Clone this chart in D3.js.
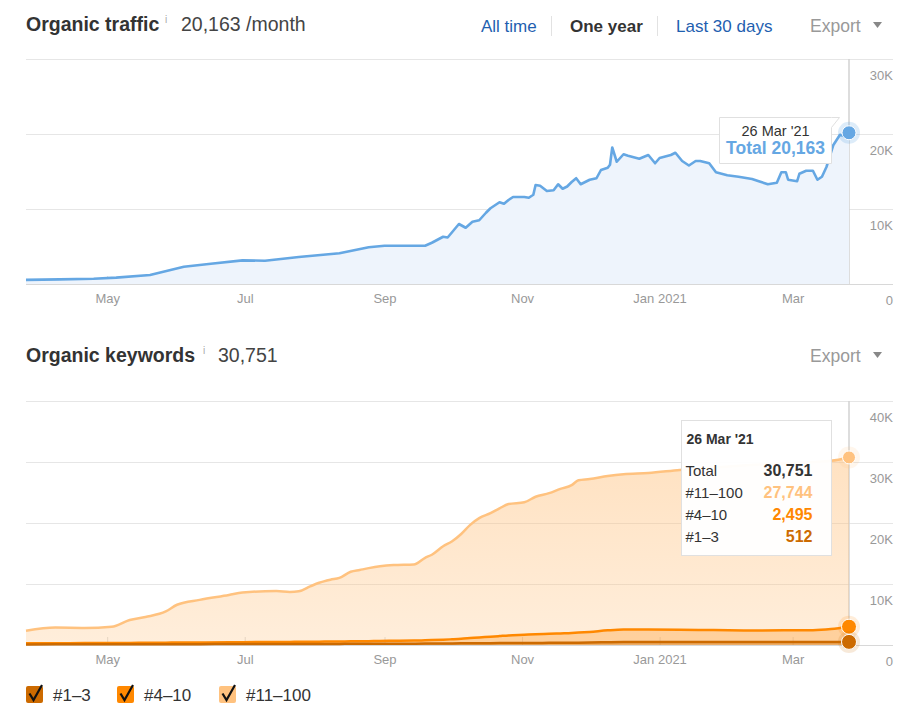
<!DOCTYPE html>
<html lang="en">
<head>
<meta charset="UTF-8">
<script src="https://d3js.org/d3.v7.min.js"></script>
<title>Organic traffic / keywords</title>
<style>
body { margin: 0; background: #fff; }
svg { display: block; font-family: "Liberation Sans", Arial, sans-serif; }
.grid line { stroke: #e6e6e6; }
.grid path { display: none; }
.ylab text { fill: #999; font-size: 13px; }
.ylab path, .ylab line { display: none; }
.xaxis path { stroke: #d8d8d8; }
.xaxis line { stroke: #dcdcdc; }
.xaxis text { fill: #999; font-size: 13px; }
</style>
</head>
<body>
<script>

// organic traffic, one year
var trafficDates = ["2020-03-26","2020-04-10","2020-04-25","2020-05-05","2020-05-20","2020-06-04","2020-06-16","2020-06-30",
  "2020-07-10","2020-07-25","2020-08-12","2020-08-25","2020-09-01","2020-09-19","2020-09-22","2020-09-27","2020-09-29",
  "2020-10-04","2020-10-07","2020-10-10","2020-10-13","2020-10-16","2020-10-18","2020-10-22","2020-10-24","2020-10-26",
  "2020-10-28","2020-11-02","2020-11-04","2020-11-06","2020-11-07","2020-11-09","2020-11-12","2020-11-15","2020-11-17",
  "2020-11-19","2020-11-21","2020-11-23","2020-11-25","2020-11-27","2020-12-01","2020-12-04","2020-12-06","2020-12-09",
  "2020-12-10","2020-12-11","2020-12-13","2020-12-16","2020-12-18","2020-12-23","2020-12-27","2020-12-30","2021-01-01",
  "2021-01-06","2021-01-08","2021-01-11","2021-01-14","2021-01-17","2021-01-19","2021-01-23","2021-01-26","2021-01-31",
  "2021-02-05","2021-02-11","2021-02-14","2021-02-18","2021-02-22","2021-02-24","2021-02-26","2021-02-27","2021-03-03",
  "2021-03-04","2021-03-07","2021-03-10","2021-03-12","2021-03-14","2021-03-16","2021-03-19","2021-03-22","2021-03-24",
  "2021-03-26"];
var trafficValues = [550, 620, 700, 850, 1200, 2300, 2700, 3150,
  3100, 3600, 4100, 4900, 5100, 5100, 5500, 6300, 6200,
  8000, 7500, 8300, 8500, 9500, 10100, 10900, 10700, 11200,
  11600, 11600, 11500, 11900, 13200, 13100, 12400, 12500, 13300,
  12700, 13000, 13600, 14100, 13300, 13900, 14100, 15200, 15500,
  15900, 18200, 16300, 17300, 17100, 16700, 17200, 16100, 16800,
  17200, 17500, 16400, 15800, 16400, 16400, 16100, 14900, 14500,
  14300, 14000, 13700, 13300, 13500, 14900, 14900, 13900, 13700,
  14700, 15100, 15100, 13900, 14300, 15600, 18500, 19900, 19700,
  20163];

// organic keywords by position
var keywordDates = ["2020-03-26","2020-04-08","2020-04-21","2020-05-03","2020-05-11","2020-05-18","2020-05-27","2020-06-01",
  "2020-06-11","2020-06-24","2020-06-30","2020-07-15","2020-07-21","2020-07-25","2020-07-30","2020-08-03","2020-08-08",
  "2020-08-12","2020-08-17","2020-08-21","2020-08-25","2020-08-30","2020-09-05","2020-09-14","2020-09-19","2020-09-22",
  "2020-09-27","2020-10-01","2020-10-05","2020-10-09","2020-10-13","2020-10-18","2020-10-22","2020-10-26","2020-11-02",
  "2020-11-07","2020-11-13","2020-11-18","2020-11-23","2020-11-26","2020-12-01","2020-12-09","2020-12-16","2020-12-27",
  "2021-01-10","2021-01-25","2021-02-10","2021-02-25","2021-03-10","2021-03-18","2021-03-26"];
var pos1to3 = [100, 110, 110, 120, 120, 130, 130, 140,
  140, 150, 150, 160, 160, 160, 170, 170, 180,
  180, 190, 190, 200, 200, 210, 220, 230, 240,
  250, 260, 270, 280, 290, 300, 310, 320, 330,
  340, 350, 360, 370, 380, 400, 450, 480, 500,
  500, 490, 490, 500, 500, 505, 512];
var pos4to10 = [180, 190, 200, 210, 220, 230, 250, 260,
  280, 300, 320, 340, 350, 360, 370, 380, 390,
  400, 410, 420, 430, 450, 480, 500, 540, 560,
  620, 680, 750, 850, 950, 1050, 1150, 1250, 1350,
  1420, 1480, 1540, 1600, 1650, 1750, 1950, 2050, 2030,
  2000, 1950, 1900, 1900, 1920, 2100, 2495];
var pos11to100 = [2070, 2550, 2490, 2670, 3760, 4240, 5120, 6200,
  6980, 7750, 8130, 8350, 8190, 8280, 9060, 9650, 10130,
  10420, 11400, 11690, 11970, 12250, 12410, 12480, 13530, 14000,
  15330, 16060, 17180, 18570, 19560, 20250, 20940, 21530, 21720,
  22540, 23070, 23700, 24230, 24970, 25050, 25300, 25470, 25670,
  26200, 26660, 27110, 27400, 27580, 27595, 27744];

var xTickDates = ["2020-05-01","2020-07-01","2020-09-01","2020-11-01","2021-01-01","2021-03-01"];
var xTickLabels = ["May","Jul","Sep","Nov","Jan 2021","Mar"];
var trafficTicks = [0, 10000, 20000, 30000];
var keywordTicks = [0, 10000, 20000, 30000, 40000];
var seriesNames = ["#1\u20133", "#4\u201310", "#11\u2013100"];
var seriesColors = ["#cc6a00", "#ff8800", "#ffc27f"];

var parse = d3.timeParse("%Y-%m-%d");
var fmt = d3.format(",");

var width = 904, height = 713;
var svg = d3.select("body").append("svg")
    .attr("width", width)
    .attr("height", height);

var x = d3.scaleTime()
    .domain([parse("2020-03-26"), parse("2021-03-26")])
    .range([26, 849]);

var kfmt = function(d) { return d === 0 ? "0" : (d / 1000) + "K"; };

function drawFrame(y, ticks, top, bottom) {
  // gridlines across plot + label column
  svg.append("g")
      .attr("class", "grid")
      .attr("transform", "translate(893,0)")
      .call(d3.axisLeft(y).tickValues(ticks).tickSize(867).tickFormat(""));

  svg.append("g")
      .attr("class", "ylab")
      .attr("transform", "translate(893,20)")
      .call(d3.axisLeft(y).tickValues(ticks).tickSize(0).tickPadding(0).tickFormat(kfmt))
    .selectAll("text")
      .attr("dy", 0);

  var xa = svg.append("g")
      .attr("class", "xaxis")
      .attr("transform", "translate(0," + bottom + ")")
      .call(d3.axisBottom(x)
        .tickValues(xTickDates.map(parse))
        .tickFormat(function(d, i) { return xTickLabels[i]; })
        .tickSizeInner(-8).tickSizeOuter(0));
  xa.select(".domain").attr("d", "M26,0.5H893");
  xa.selectAll("text").attr("y", 19).attr("dy", 0);

  // crosshair at last point
  svg.append("line")
      .attr("x1", x(parse("2021-03-26"))).attr("x2", x(parse("2021-03-26")))
      .attr("y1", top).attr("y2", bottom)
      .attr("stroke", "#d2d2d2").attr("stroke-width", 1.5);
}

/* ---------- Organic traffic ---------- */
svg.append("text").attr("x", 26).attr("y", 31)
    .style("font-size", "19.5px").style("font-weight", "bold").attr("fill", "#333")
    .text("Organic traffic");
svg.append("text").attr("x", 165).attr("y", 23)
    .style("font-size", "10px").attr("fill", "#aaa").text("i");
svg.append("text").attr("x", 181).attr("y", 31)
    .style("font-size", "19.5px").attr("fill", "#444")
    .text(fmt(trafficValues[trafficValues.length - 1]) + " /month");

var links = [
  {t: "All time", x: 481, c: "#1f5fb0", w: "normal"},
  {t: "One year", x: 570, c: "#333", w: "bold"},
  {t: "Last 30 days", x: 676, c: "#1f5fb0", w: "normal"}
];
svg.selectAll("text.link").data(links).enter().append("text")
    .attr("class", "link")
    .attr("x", function(d) { return d.x; }).attr("y", 32)
    .style("font-size", "17px").style("font-weight", function(d) { return d.w; })
    .attr("fill", function(d) { return d.c; })
    .text(function(d) { return d.t; });
[551.5, 657.5].forEach(function(sx) {
  svg.append("line").attr("x1", sx).attr("x2", sx).attr("y1", 16).attr("y2", 36)
      .attr("stroke", "#e2e2e2");
});

function exportBtn(yb) {
  svg.append("text").attr("x", 810).attr("y", yb)
      .style("font-size", "17.5px").attr("fill", "#999").text("Export");
  svg.append("path")
      .attr("d", "M873," + (yb - 10) + "h9l-4.5,6z")
      .attr("fill", "#888");
}
exportBtn(32);

var y1 = d3.scaleLinear().domain([0, 30000]).range([284, 59]);
drawFrame(y1, trafficTicks, 59, 284);

var traffic = trafficDates.map(function(d, i) { return {date: parse(d), v: trafficValues[i]}; });

svg.append("path").datum(traffic)
    .attr("fill", "#eef4fc")
    .attr("d", d3.area().x(function(d) { return x(d.date); }).y0(y1(0)).y1(function(d) { return y1(d.v); }));
svg.append("path").datum(traffic)
    .attr("fill", "none").attr("stroke", "#65a7e3").attr("stroke-width", 2.6)
    .attr("stroke-linejoin", "round")
    .attr("d", d3.line().x(function(d) { return x(d.date); }).y(function(d) { return y1(d.v); }));

var lastT = traffic[traffic.length - 1];
svg.append("circle").attr("cx", x(lastT.date)).attr("cy", y1(lastT.v)).attr("r", 11)
    .attr("fill", "#65a7e3").attr("opacity", 0.22);
svg.append("circle").attr("cx", x(lastT.date)).attr("cy", y1(lastT.v)).attr("r", 7)
    .attr("fill", "#65a7e3").attr("stroke", "#fff").attr("stroke-width", 1);

// traffic tooltip
var tt = svg.append("g").attr("transform", "translate(719.5,117.5)");
tt.append("path")
    .attr("d", "M0,0H112L120,0L112,10V46H0Z")
    .attr("fill", "#fff").attr("stroke", "#e0e0e0");
tt.append("text").attr("x", 56).attr("y", 18).attr("text-anchor", "middle")
    .style("font-size", "14.5px").attr("fill", "#333")
    .text("26 Mar '21");
tt.append("text").attr("x", 56).attr("y", 36).attr("text-anchor", "middle")
    .style("font-size", "17.5px").style("font-weight", "bold").attr("fill", "#65a7e3")
    .text("Total " + fmt(lastT.v));

/* ---------- Organic keywords ---------- */
svg.append("text").attr("x", 26).attr("y", 362)
    .style("font-size", "19.5px").style("font-weight", "bold").attr("fill", "#333")
    .text("Organic keywords");
svg.append("text").attr("x", 203).attr("y", 354)
    .style("font-size", "10px").attr("fill", "#aaa").text("i");
var kwTotal = pos1to3[pos1to3.length - 1] + pos4to10[pos4to10.length - 1] + pos11to100[pos11to100.length - 1];
svg.append("text").attr("x", 218).attr("y", 362)
    .style("font-size", "19.5px").attr("fill", "#444").text(fmt(kwTotal));
exportBtn(362);

var y2 = d3.scaleLinear().domain([0, 40000]).range([645, 401]);
drawFrame(y2, keywordTicks, 401, 645);

var kwTable = keywordDates.map(function(d, i) {
  return {date: parse(d), a: pos1to3[i], b: pos4to10[i], c: pos11to100[i]};
});
var stacked = d3.stack().keys(["a", "b", "c"])(kwTable);

var defs = svg.append("defs");
var grad = defs.append("linearGradient").attr("id", "kwfill")
    .attr("x1", 0).attr("y1", 0).attr("x2", 0).attr("y2", 1);
grad.append("stop").attr("offset", "0%").attr("stop-color", "#ffc27f").attr("stop-opacity", 0.48);
grad.append("stop").attr("offset", "100%").attr("stop-color", "#ffc27f").attr("stop-opacity", 0.28);

var area = d3.area().curve(d3.curveMonotoneX)
    .x(function(d) { return x(d.data.date); })
    .y0(function() { return y2(0); })
    .y1(function(d) { return y2(d[1]); });
var line = d3.line().curve(d3.curveMonotoneX)
    .x(function(d) { return x(d.data.date); })
    .y(function(d) { return y2(d[1]); });

var areaFills = ["#cc6a00", "#ff9a2a", "url(#kwfill)"];
var areaOps = [0.35, 0.35, 1];
[2, 1, 0].forEach(function(k) {
  svg.append("path").datum(stacked[k])
      .attr("fill", areaFills[k]).attr("fill-opacity", areaOps[k])
      .attr("d", area);
});
[2, 1, 0].forEach(function(k) {
  svg.append("path").datum(stacked[k])
      .attr("fill", "none").attr("stroke", seriesColors[k]).attr("stroke-width", 2.5)
      .attr("d", line);
});

var lastIdx = kwTable.length - 1;
[2, 1, 0].forEach(function(k) {
  var p = stacked[k][lastIdx];
  var cx = x(p.data.date), cy = y2(p[1]);
  svg.append("circle").attr("cx", cx).attr("cy", cy).attr("r", 11)
      .attr("fill", seriesColors[k]).attr("opacity", 0.15);
  svg.append("circle").attr("cx", cx).attr("cy", cy).attr("r", k === 2 ? 6.5 : 7.5)
      .attr("fill", seriesColors[k]).attr("stroke", "#fff").attr("stroke-width", 1);
});

// keywords tooltip
var kt = svg.append("g").attr("transform", "translate(681.5,420.5)");
kt.append("rect").attr("width", 150).attr("height", 135)
    .attr("fill", "#fff").attr("fill-opacity", 0.96).attr("stroke", "#e0e0e0");
kt.append("text").attr("x", 5).attr("y", 23)
    .style("font-size", "14px").style("font-weight", "bold").attr("fill", "#333")
    .text("26 Mar '21");
var rows = [
  {label: "Total", v: kwTotal, c: "#333"},
  {label: seriesNames[2], v: pos11to100[lastIdx], c: seriesColors[2]},
  {label: seriesNames[1], v: pos4to10[lastIdx], c: seriesColors[1]},
  {label: seriesNames[0], v: pos1to3[lastIdx], c: seriesColors[0]}
];
rows.forEach(function(r, i) {
  kt.append("text").attr("x", 4).attr("y", 55 + i * 22.3)
      .style("font-size", "15px").attr("fill", "#333").text(r.label);
  kt.append("text").attr("x", 131).attr("y", 55 + i * 22.3).attr("text-anchor", "end")
      .style("font-size", "16px").style("font-weight", "bold").attr("fill", r.c)
      .text(fmt(r.v));
});

/* ---------- legend ---------- */
var legendX = [26, 117, 219];
var lg = svg.selectAll("g.leg").data(seriesNames).enter().append("g")
    .attr("class", "leg")
    .attr("transform", function(d, i) { return "translate(" + legendX[i] + ",686)"; });
lg.append("rect").attr("width", 17).attr("height", 17).attr("rx", 2)
    .attr("fill", function(d, i) { return seriesColors[i]; });
lg.append("path").attr("d", "M3.5,7.5L7.5,14L16,-1")
    .attr("fill", "none").attr("stroke", "#111").attr("stroke-width", 2.2);
lg.append("text").attr("x", 27).attr("y", 14.5)
    .style("font-size", "17px").attr("fill", "#333")
    .text(function(d) { return d; });

</script>
</body>
</html>
